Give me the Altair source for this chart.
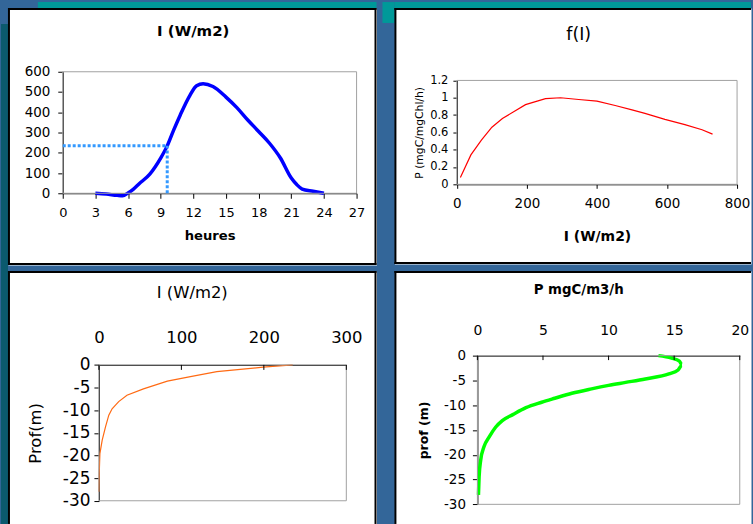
import altair as alt
import pandas as pd

FONT = "DejaVu Sans"

# ---------------- data ----------------
# Panel 1 : daily irradiance
hours = [3, 4, 5, 5.5, 6, 6.5, 7, 8, 9, 9.6, 10.2, 10.8, 11.7, 12.3, 12.9, 13.8, 15, 16, 17, 18, 19, 20, 21, 21.5, 22, 23, 24]
irradiance = [0, -4, -10, -12, 2, 21, 46, 95, 174, 234, 313, 387, 485, 531, 541, 527, 475, 423, 362, 305, 247, 174, 75, 43, 21, 10, 0]
mark_hour = [9.6]
mark_irr = [235]

# Panel 2 : f(I)
light = [10, 40, 70, 100, 130, 196, 253, 296, 348, 400, 452, 500, 537, 594, 651, 700, 730]
f_light = [0.08, 0.34, 0.51, 0.66, 0.76, 0.92, 0.99, 1.0, 0.98, 0.96, 0.91, 0.86, 0.82, 0.75, 0.69, 0.63, 0.58]

# Panel 3 : irradiance profile
irr_depth = [235, 199, 143, 111, 83, 54, 34, 24, 16, 12, 8, 4, 1.2, 0.4, 0]
depth_i = [0, -0.5, -1.5, -2.6, -3.6, -5.3, -6.7, -8.1, -9.7, -11.1, -13.7, -16.6, -19.6, -24, -28]

# Panel 4 : production profile
prod = [13.8, 14.8, 15.4, 15.6, 15.3, 14.6, 12.8, 11.3, 10.0, 8.7, 7.2, 5.9, 4.9, 3.7, 2.7, 1.9, 1.4, 0.9, 0.5, 0.25, 0.13, 0.08]
depth_p = [0, -0.5, -1.1, -1.9, -2.9, -3.7, -4.7, -5.4, -6.0, -6.7, -7.6, -8.6, -9.4, -10.5, -11.9, -13.1, -14.4, -16.4, -18.4, -21.1, -24.4, -28.1]

titles = ["I (W/m2)", "f(I)", "I (W/m2)", "P mgC/m3/h"]

one = pd.DataFrame({"k": [0]})
PLAIN = "'' + datum.value"
TEAL = "#009999"
DARK_TEAL = "#0b5a6e"


def borders(W, H, sides):
    out = []
    for s in sides:
        base = alt.Chart(one).mark_rule(color="black", strokeWidth=2)
        if s == "left":
            out.append(base.encode(x=alt.value(1), y=alt.value(0), y2=alt.value(H)))
        elif s == "top":
            out.append(base.encode(y=alt.value(1), x=alt.value(0), x2=alt.value(W)))
        elif s == "right":
            out.append(base.encode(x=alt.value(W - 1), y=alt.value(0), y2=alt.value(H)))
        elif s == "bottom":
            out.append(base.encode(y=alt.value(H - 1), x=alt.value(0), x2=alt.value(W)))
    return out


def deco(color, x, x2, y, y2):
    return alt.Chart(one).mark_rect(color=color).encode(
        x=alt.value(x), x2=alt.value(x2), y=alt.value(y), y2=alt.value(y2))


def panel_title(text, cx, cy, size, weight):
    return alt.Chart(one).mark_text(font=FONT, fontSize=size, fontWeight=weight, color="black",
                                    align="center", baseline="middle").encode(
        x=alt.value(cx), y=alt.value(cy), text=alt.value(text))


def frame(xs, ys, x0, x1, y0, y1):
    df = pd.DataFrame({"fx": [x0], "fx2": [x1], "fy": [y0], "fy2": [y1]})
    return alt.Chart(df).mark_rect(fillOpacity=0, stroke="#a0a0a0", strokeWidth=1).encode(
        x=alt.X("fx:Q", scale=xs), x2="fx2:Q",
        y=alt.Y("fy:Q", scale=ys), y2="fy2:Q")


# ---------------- Panel 1 ----------------
W1, H1 = 370, 258
xs1 = alt.Scale(domain=[0, 27], range=[55, 350], nice=False, zero=False)
ys1 = alt.Scale(domain=[0, 600], range=[186, 64], nice=False)
d1 = pd.DataFrame({"h": hours, "I": irradiance})
line1 = alt.Chart(d1).mark_line(color="#0000ff", strokeWidth=3.5, interpolate="monotone").encode(
    x=alt.X("h:Q", scale=xs1,
            axis=alt.Axis(orient="bottom", offset=-(H1 - 186), values=list(range(0, 28, 3)), title="heures",
                          labelFontSize=13, tickSize=5, labelPadding=8, titleFontSize=13.2, titleFontWeight="bold",
                          titlePadding=10)),
    y=alt.Y("I:Q", scale=ys1,
            axis=alt.Axis(orient="left", offset=-55, values=list(range(0, 601, 100)), title=None,
                          labelFontSize=13.5, tickSize=5, labelPadding=8)),
)
dh = pd.DataFrame({"a": [0, mark_hour[0]], "a2": [mark_hour[0], mark_hour[0]],
                   "b": [mark_irr[0], 0], "b2": [mark_irr[0], mark_irr[0]]})
dots1 = alt.Chart(dh).mark_rule(color="#3399ff", strokeWidth=3, strokeDash=[3, 2]).encode(
    x=alt.X("a:Q", scale=xs1), x2="a2:Q", y=alt.Y("b:Q", scale=ys1), y2="b2:Q")
p1 = alt.layer(line1, frame(xs1, ys1, 0, 27, 0, 600), dots1,
               deco(DARK_TEAL, -7, 0, 16, 518), deco(TEAL, 30, W1, -6, 0),
               panel_title(titles[0], 186, 23, 15, "bold"),
               *borders(W1, H1, ["left", "top", "right", "bottom"])).properties(width=W1, height=H1)

# ---------------- Panel 2 ----------------
W2, H2 = 358, 257
xs2 = alt.Scale(domain=[0, 800], range=[62.7, 344], nice=False, zero=False)
ys2 = alt.Scale(domain=[0, 1.2], range=[177, 72.7], nice=False)
d2 = pd.DataFrame({"I": light, "f": f_light})
line2 = alt.Chart(d2).mark_line(color="#ff0000", strokeWidth=1.2).encode(
    x=alt.X("I:Q", scale=xs2,
            axis=alt.Axis(orient="bottom", offset=-(H2 - 177), values=[0, 200, 400, 600, 800], title="I (W/m2)",
                          labelFontSize=13.5, tickSize=4, labelPadding=8, titleFontSize=14, titleFontWeight="bold",
                          titlePadding=20)),
    y=alt.Y("f:Q", scale=ys2,
            axis=alt.Axis(orient="left", offset=-62.7, values=[0, 0.2, 0.4, 0.6, 0.8, 1, 1.2], title="P (mgC/mgChl/h)",
                          labelExpr=PLAIN, labelFontSize=11.5, tickSize=4, labelPadding=5, titleFontSize=10.8,
                          titleFontWeight="normal", titlePadding=5)),
)
p2 = alt.layer(line2, frame(xs2, ys2, 0, 800, 0, 1.2),
               deco(TEAL, -12, 0, -6, 15), deco(TEAL, 0, W2, -6, 0),
               panel_title(titles[1], 185, 27, 17.5, "normal"),
               *borders(W2, H2, ["left", "top", "bottom"])).properties(width=W2, height=H2)

# ---------------- Panel 3 ----------------
W3, H3 = 370, 254
xs3 = alt.Scale(domain=[0, 300], range=[91.3, 339.7], nice=False, zero=False)
ys3 = alt.Scale(domain=[-30, 0], range=[230.7, 94.3], nice=False)
d3 = pd.DataFrame({"I": irr_depth, "z": depth_i, "i": list(range(len(depth_i)))})
line3 = alt.Chart(d3).mark_line(color="#ff6a13", strokeWidth=1.2).encode(
    x=alt.X("I:Q", scale=xs3,
            axis=alt.Axis(orient="top", offset=-94.3, values=[0, 100, 200, 300], title=None,
                          labelFontSize=16.5, ticks=False, tickSize=0, labelPadding=19)),
    y=alt.Y("z:Q", scale=ys3,
            axis=alt.Axis(orient="left", offset=-91.3, values=list(range(-30, 1, 5)), title="Prof(m)",
                          labelExpr=PLAIN, labelFontSize=17, tickSize=5, labelPadding=4, titleFontSize=16.5,
                          titleFontWeight="normal", titlePadding=19)),
    order=alt.Order("i:Q"),
)
t3 = pd.DataFrame({"t": [0, 100, 200, 300], "t0": [0, 0, 0, 0], "t1": [-1.1, -1.1, -1.1, -1.1]})
ticks3 = alt.Chart(t3).mark_rule(color="black", strokeWidth=1).encode(
    x=alt.X("t:Q", scale=xs3), y=alt.Y("t0:Q", scale=ys3), y2="t1:Q")
p3 = alt.layer(line3, frame(xs3, ys3, 0, 300, -30, 0), ticks3,
               panel_title(titles[2], 185, 22, 16.5, "normal"),
               *borders(W3, H3, ["left", "top", "right"])).properties(width=W3, height=H3)

# ---------------- Panel 4 ----------------
W4, H4 = 358, 254
xs4 = alt.Scale(domain=[0, 20], range=[83.3, 346.7], nice=False, zero=False)
ys4 = alt.Scale(domain=[-30, 0], range=[234.3, 85], nice=False)
d4 = pd.DataFrame({"P": prod, "z": depth_p, "i": list(range(len(depth_p)))})
line4 = alt.Chart(d4).mark_line(color="#00ff00", strokeWidth=3.5, interpolate="monotone").encode(
    x=alt.X("P:Q", scale=xs4,
            axis=alt.Axis(orient="top", offset=-85, values=[0, 5, 10, 15, 20], title=None,
                          labelFontSize=14, ticks=False, tickSize=0, labelPadding=18)),
    y=alt.Y("z:Q", scale=ys4,
            axis=alt.Axis(orient="left", offset=-83.3, values=list(range(-30, 1, 5)), title="prof (m)",
                          labelExpr=PLAIN, labelFontSize=13.5, tickSize=5, labelPadding=7, titleFontSize=12.5,
                          titleFontWeight="bold", titlePadding=13)),
    order=alt.Order("i:Q"),
)
t4 = pd.DataFrame({"t": [0, 5, 10, 15, 20], "t0": [0] * 5, "t1": [-0.9] * 5})
ticks4 = alt.Chart(t4).mark_rule(color="black", strokeWidth=1).encode(
    x=alt.X("t:Q", scale=xs4), y=alt.Y("t0:Q", scale=ys4), y2="t1:Q")
p4 = alt.layer(line4, frame(xs4, ys4, 0, 20, -30, 0), ticks4,
               panel_title(titles[3], 185, 19, 13.4, "bold"),
               *borders(W4, H4, ["left", "top"])).properties(width=W4, height=H4)

chart = alt.concat(p1, p2, p3, p4, columns=2, spacing={"row": 6, "column": 18}, bounds="flush").properties(
    padding={"left": 0, "top": 0, "right": 0, "bottom": 0},
    background="#336699",
).configure_view(fill="white", stroke="transparent").configure_axis(
    grid=False, domainColor="black", tickColor="black", labelColor="black", titleColor="black",
    labelFont=FONT, titleFont=FONT, domainWidth=1, tickWidth=1, zindex=1, labelFontWeight="normal",
    labelOverlap=False, labelBound=False, labelFlush=False,
)

chart.save("out.html", embed_options={"renderer": "svg", "actions": False})
